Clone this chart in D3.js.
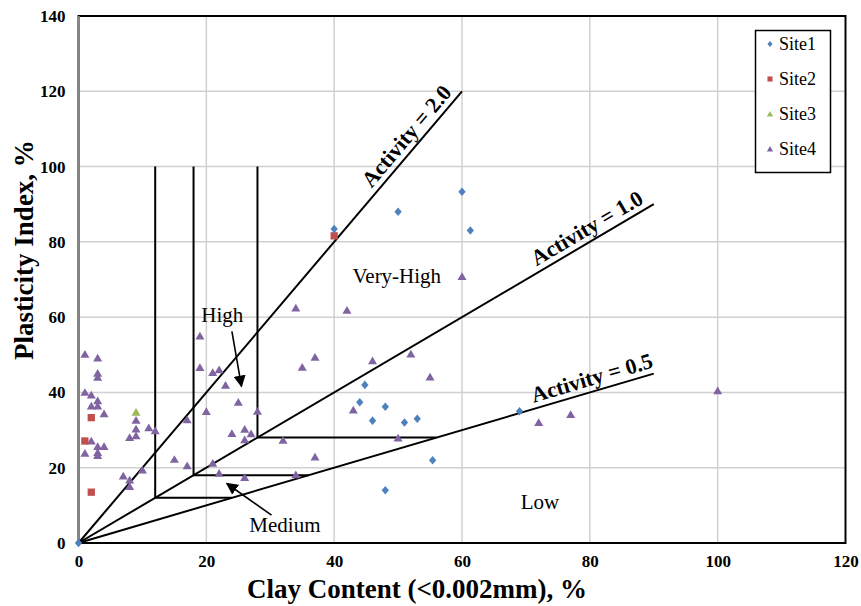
<!DOCTYPE html>
<html><head><meta charset="utf-8">
<script src="https://cdn.jsdelivr.net/npm/d3@7"></script>
<style>body{margin:0;background:#fff}</style>
</head><body><svg id="c" width="861" height="606"></svg>
<script>
const xTicks=[0,20,40,60,80,100,120];
const yTicks=[0,20,40,60,80,100,120,140];
const seriesNames=["Site1","Site2","Site3","Site4"];
const site1X=[0,40,50,60,61.3,44.8,44,48,46,51,53,55.4,48,69];
const site1Y=[0,83.4,88,93.3,83,42,37.4,36.2,32.5,32,33,22,14,35];
const site2X=[40,2,1,2];
const site2Y=[81.6,33.3,27.1,13.5];
const site3X=[9];
const site3Y=[34.7];
const site4X=[1,3,3,3,1,2,3,2,3,4,9,9,11,12,9,8,2,3,4,3,3,1,17,15,17,10,7,8,8,
  19,19,21,22,23,25,20,28,24,26,27,26,21,22,26,34,32,37,34,
  42,37,35,46,52,55,43,50,60,72,77,100];
const site4Y=[50.1,49.1,45.1,44,40,39.3,37.8,36.4,36.4,34.3,32.6,30.3,30.6,29.8,28.5,28,27.1,25.6,25.6,24,23.2,23.8,32.7,22.2,20.5,19.4,17.8,16.7,15,
  55,46.6,45.3,46,41.9,37.4,34.9,35,29.1,30.2,29,27.4,21.2,18.5,17.4,62.4,27.3,22.8,18.1,
  61.8,49.3,46.7,48.4,50.2,44.1,35.3,27.9,70.8,32,34.1,40.4];
const activities=[2.0,1.0,0.5];
const activityEndX=[60,90,90];
const activityLabels=["Activity = 2.0","Activity = 1.0","Activity = 0.5"];
const boundaryX=[12,18,28];
const boundaryTop=100;

const svg=d3.select("#c");
const L=78.5,R=845.5,T=16,B=543;
const x=d3.scaleLinear().domain([0,120]).range([L,R]);
const y=d3.scaleLinear().domain([0,140]).range([B,T]);
const serif="'Liberation Serif','Times New Roman',serif";

// grid
svg.append("g").selectAll("line").data(xTicks.slice(1,-1)).join("line")
 .attr("x1",d=>x(d)).attr("x2",d=>x(d)).attr("y1",T).attr("y2",B)
 .attr("stroke","#d0d0d0").attr("stroke-width",1.5);
svg.append("g").selectAll("line").data(yTicks.slice(1,-1)).join("line")
 .attr("y1",d=>y(d)).attr("y2",d=>y(d)).attr("x1",L).attr("x2",R)
 .attr("stroke","#d0d0d0").attr("stroke-width",1.5);
// frame
svg.append("rect").attr("x",L).attr("y",T).attr("width",R-L).attr("height",B-T)
 .attr("fill","none").attr("stroke","#000").attr("stroke-width",2);
svg.append("line").attr("x1",L).attr("x2",L).attr("y1",T).attr("y2",B)
 .attr("stroke","#868686").attr("stroke-width",2.5);

// axes labels via d3 axes
const xAxis=svg.append("g").attr("transform",`translate(0,${B})`)
 .call(d3.axisBottom(x).tickValues(xTicks).tickSize(0).tickPadding(12));
const yAxis=svg.append("g").attr("transform",`translate(${L},0)`)
 .call(d3.axisLeft(y).tickValues(yTicks).tickSize(0).tickPadding(13));
[xAxis,yAxis].forEach(a=>{a.select(".domain").remove();
 a.selectAll("text").attr("font-family",serif).attr("font-weight","bold").attr("font-size",17).attr("fill","#000");});

svg.append("text").attr("x",417).attr("y",598).attr("text-anchor","middle")
 .attr("font-family",serif).attr("font-weight","bold").attr("font-size",27).text("Clay Content (<0.002mm), %");
svg.append("text").attr("transform",`translate(33,250) rotate(-90)`).attr("text-anchor","middle")
 .attr("font-family",serif).attr("font-weight","bold").attr("font-size",27).text("Plasticity Index, %");

// activity lines
const lg=svg.append("g");
activities.forEach((a,i)=>{
 lg.append("line").attr("x1",x(0)).attr("y1",y(0)).attr("x2",x(activityEndX[i])).attr("y2",y(a*activityEndX[i]))
  .attr("stroke","#000").attr("stroke-width",2);
});
// boundaries
boundaryX.forEach(b=>{
 lg.append("path").attr("d",`M${x(b)},${y(boundaryTop)}L${x(b)},${y(b)}L${x(2*b)},${y(b)}`)
  .attr("fill","none").attr("stroke","#000").attr("stroke-width",2);
});

// activity labels
const labelAtX=[52.9,80.6,80.9];
activities.forEach((a,i)=>{
 const px=x(labelAtX[i]),py=y(a*labelAtX[i]);
 const ang=Math.atan2(y(a*10)-y(0),x(10)-x(0))*180/Math.PI;
 svg.append("text").attr("transform",`translate(${px},${py}) rotate(${ang})`).attr("dy",-6)
  .attr("text-anchor","middle").attr("font-family",serif).attr("font-weight","bold").attr("font-size",22)
  .text(activityLabels[i]);
});

// region labels
const regions=[{t:"Very-High",x:49.8,y:69},{t:"High",x:22.5,y:58.7},{t:"Low",x:72.2,y:9},{t:"Medium",x:32.3,y:2.9}];
regions.forEach(r=>svg.append("text").attr("x",x(r.x)).attr("y",y(r.y)).attr("text-anchor","middle")
 .attr("font-family",serif).attr("font-size",21).text(r.t));

// arrows
const defs=svg.append("defs");
defs.append("marker").attr("id","ah").attr("viewBox","0 0 10 10").attr("refX",9).attr("refY",5)
 .attr("markerWidth",12).attr("markerHeight",12).attr("markerUnits","userSpaceOnUse").attr("orient","auto")
 .append("path").attr("d","M0,0L10,5L0,10Z").attr("fill","#000");
const arrows=[[24.0,56.2,25.5,41.6],[30.2,7.4,23.2,15.8]];
arrows.forEach(a=>svg.append("line").attr("x1",x(a[0])).attr("y1",y(a[1])).attr("x2",x(a[2])).attr("y2",y(a[3]))
 .attr("stroke","#000").attr("stroke-width",1.6).attr("marker-end","url(#ah)"));

// markers
const colors=["#4F81BD","#C0504D","#9BBB59","#8064A2"];
function shape(k,s){
 if(k===0) return `M0,${-s}L${s*0.85},0L0,${s}L${-s*0.85},0Z`;
 if(k===1) return `M${-s*0.85},${-s*0.85}h${s*1.7}v${s*1.7}h${-s*1.7}Z`;
 return `M0,${-s}L${s*1.05},${s*0.8}L${-s*1.05},${s*0.8}Z`;
}
const sets=[[site1X,site1Y],[site2X,site2Y],[site3X,site3Y],[site4X,site4Y]];
[3,2,1,0].forEach(k=>{
 const [xs,ys]=sets[k];
 svg.append("g").selectAll("path").data(xs.map((v,i)=>[v,ys[i]])).join("path")
  .attr("transform",d=>`translate(${x(d[0])},${y(d[1])})`).attr("d",shape(k,4.3)).attr("fill",colors[k]);
});

// legend
svg.append("rect").attr("x",755.5).attr("y",30.5).attr("width",75).attr("height",142)
 .attr("fill","#fff").attr("stroke","#000").attr("stroke-width",1.5);
seriesNames.forEach((n,k)=>{
 const cy=44+k*35;
 svg.append("path").attr("transform",`translate(770,${cy})`).attr("d",shape(k,3)).attr("fill",colors[k]);
 svg.append("text").attr("x",779).attr("y",cy+6).attr("font-family",serif).attr("font-size",18).text(n);
});
</script></body></html>
